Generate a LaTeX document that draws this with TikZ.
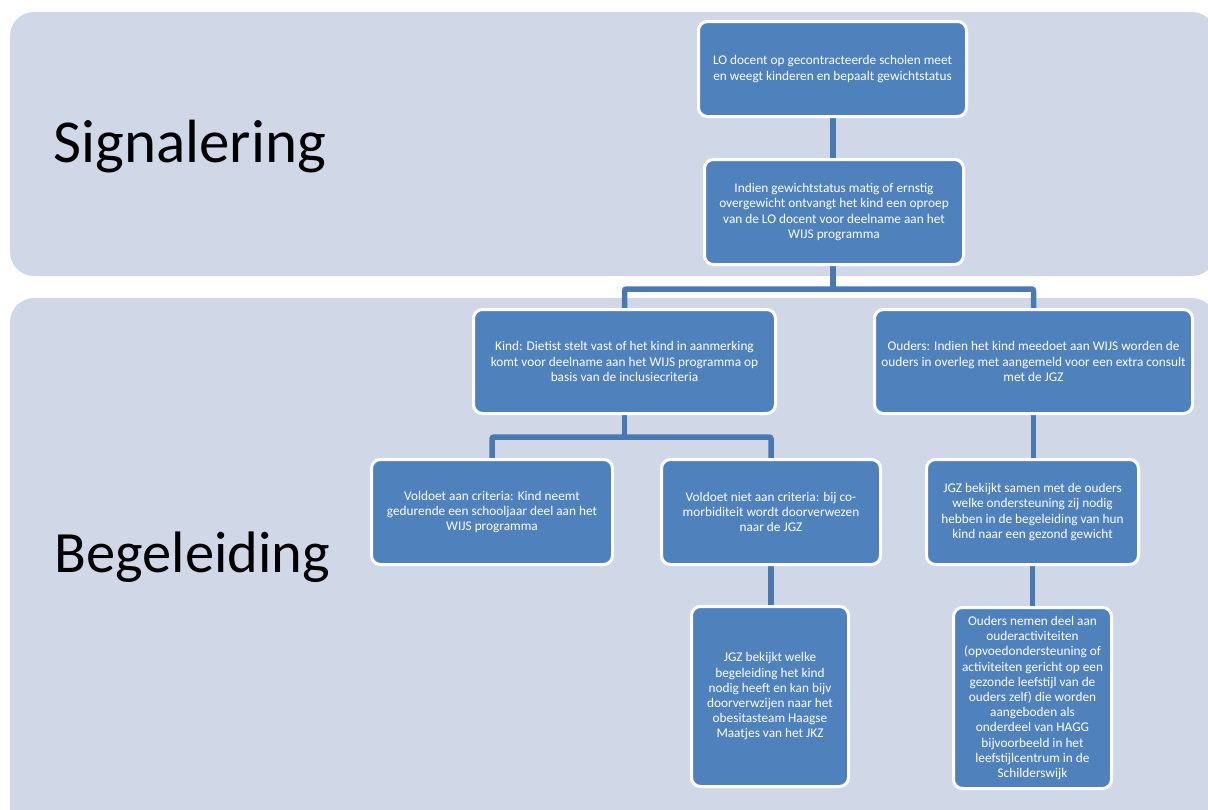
\documentclass[tikz,border=0pt]{standalone}
\usepackage{fontspec}
\setmainfont{Carlito}
\definecolor{band}{HTML}{D0D8E7}
\definecolor{boxblue}{HTML}{4F81BD}
\definecolor{linkblue}{HTML}{4A78B1}
\pgfdeclarelayer{bands}
\pgfdeclarelayer{links}
\pgfsetlayers{bands,links,main}
\tikzset{
  bandshape/.style={fill=band, rounded corners=24pt},
  stepbox/.style={draw=white, line width=3pt, fill=boxblue, rounded corners=9pt,
    text=white, align=center, font=\fontsize{13.3}{15.2}\selectfont, inner sep=1pt},
  conn/.style={draw=linkblue, line width=5.5pt, rounded corners=2pt},
  bandlabel/.style={anchor=west, text=black}
}
\begin{document}
\begin{tikzpicture}[x=1pt, y=-1pt]
\useasboundingbox (0,0) rectangle (1208,809);
\begin{pgfonlayer}{bands}
  \clip (0,0) rectangle (1208,809);
  \fill[bandshape] (10,12) rectangle (1216,276);
  \fill[bandshape] (10,298) rectangle (1216,840);
\end{pgfonlayer}

\node[bandlabel, font=\fontsize{61}{70}\selectfont] (sig) at (50,147) {Signalering};
\node[bandlabel, font=\fontsize{58.5}{68}\selectfont] (beg) at (51,557) {Begeleiding};

\node[stepbox, minimum width=268pt, minimum height=95pt] (b1) at (832.5,69)
  {LO docent op gecontracteerde scholen meet\\en weegt kinderen en bepaalt gewichtstatus};
\node[stepbox, minimum width=259pt, minimum height=105pt] (b2) at (834,212)
  {Indien gewichtstatus matig of ernstig\\overgewicht ontvangt het kind een oproep\\van de LO docent voor deelname aan het\\WIJS programma};
\node[stepbox, minimum width=302pt, minimum height=104pt] (b3) at (624.5,361.5)
  {Kind: Dietist stelt vast of het kind in aanmerking\\komt voor deelname aan het WIJS programma op\\basis van de inclusiecriteria};
\node[stepbox, minimum width=318pt, minimum height=104pt] (b4) at (1033.5,361.5)
  {Ouders: Indien het kind meedoet aan WIJS worden de\\ouders in overleg met aangemeld voor een extra consult\\met de JGZ};
\node[stepbox, minimum width=241pt, minimum height=105pt] (b5) at (492,512)
  {Voldoet aan criteria: Kind neemt\\gedurende een schooljaar deel aan het\\WIJS programma};
\node[stepbox, minimum width=219pt, minimum height=105pt] (b6) at (771,512)
  {Voldoet niet aan criteria: bij co-\\morbiditeit wordt doorverwezen\\naar de JGZ};
\node[stepbox, minimum width=212pt, minimum height=105pt] (b7) at (1032.5,512)
  {JGZ bekijkt samen met de ouders\\welke ondersteuning zij nodig\\hebben in de begeleiding van hun\\kind naar een gezond gewicht};
\node[stepbox, minimum width=157pt, minimum height=180pt] (b8) at (770,696.5)
  {JGZ bekijkt welke\\begeleiding het kind\\nodig heeft en kan bijv\\doorverwzijen naar het\\obesitasteam Haagse\\Maatjes van het JKZ};
\node[stepbox, minimum width=158pt, minimum height=181pt] (b9) at (1032.5,698)
  {Ouders nemen deel aan\\ouderactiviteiten\\(opvoedondersteuning of\\activiteiten gericht op een\\gezonde leefstijl van de\\ouders zelf) die worden\\aangeboden als\\onderdeel van HAGG\\bijvoorbeeld in het\\leefstijlcentrum in de\\Schilderswijk};

\coordinate (split1) at (833,289);
\coordinate (split2) at (624.5,437);

\begin{pgfonlayer}{links}
  \draw[conn] (b1.south -| split1) -- (b2.north -| split1);
  \draw[conn] (b2.south -| split1) -- (split1);
  \draw[conn] (b3.north) -- (b3.north |- split1) -| (b4.north);
  \draw[conn] (b3.south) -- (split2);
  \draw[conn] (b5.north) -- (b5.north |- split2) -| (b6.north);
  \draw[conn] (b6.south) -- (b8.north -| b6.south);
  \draw[conn] (b4.south) -- (b7.north -| b4.south);
  \draw[conn] (b7.south -| b9.north) -- (b9.north);
\end{pgfonlayer}
\end{tikzpicture}
\end{document}
